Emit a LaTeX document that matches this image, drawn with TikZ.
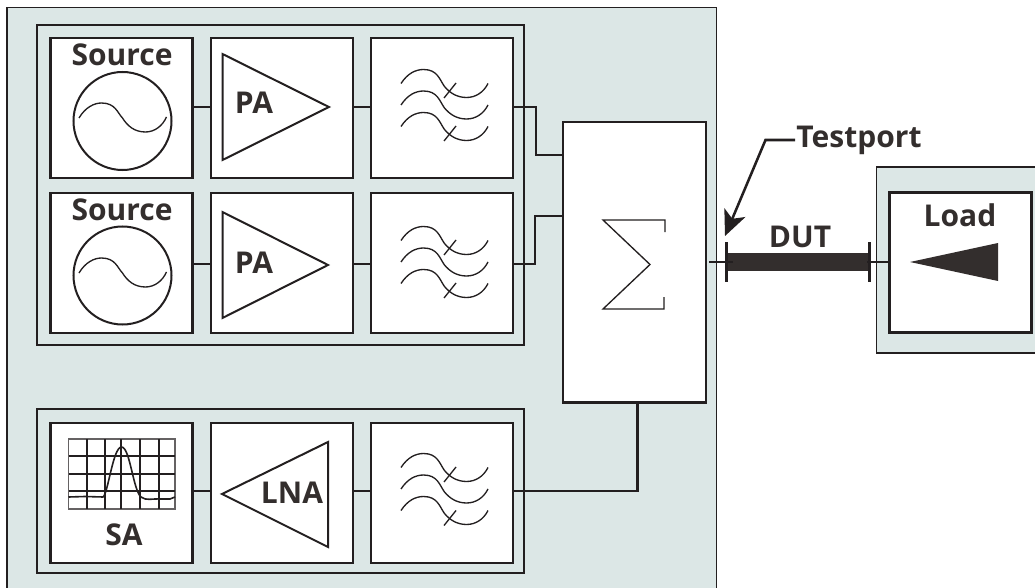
\documentclass[tikz,border=0pt]{standalone}
\usepackage{fontspec}
\setmainfont{Open Sans}
\usetikzlibrary{arrows.meta}
\definecolor{panel}{HTML}{DCE7E6}
\definecolor{ink}{HTML}{231F20}
\definecolor{txt}{HTML}{332E2D}
\tikzset{
  x=0.75pt,y=-0.75pt,
  panelline/.style={draw=ink,line width=1.3pt},
  groupbox/.style={draw=ink,line width=1.8pt,fill=panel},
  block/.style={draw=ink,line width=2.1pt,fill=white,rectangle,inner sep=0pt,outer sep=0pt,minimum width=106.5pt,minimum height=105pt},
  wire/.style={draw=ink,line width=1.9pt},
  thinpart/.style={draw=ink,line width=1pt},
  amp/.style={draw=ink,line width=1.5pt,line join=miter},
  lab/.style={text=txt,font=\fontsize{22.5}{24}\bfseries\selectfont,inner sep=0pt},
  sinewave/.pic={\draw[thinpart] (-43.5,-3) .. controls (-37,-14) and (-28,-18) .. (-21,-18) .. controls (-7,-18) and (-5,-8) .. (0,-3) .. controls (5,5) and (12,11) .. (23,11) .. controls (32,11) and (40,5) .. (44,-4);},
  filterwave/.pic={\foreach \dy in {0,21.5,43}{\draw[thinpart] (-43.5,\dy) .. controls (-37,\dy-10) and (-29,\dy-14) .. (-21,\dy-14) .. controls (-7,\dy-14) and (-5,\dy-4) .. (0,\dy+3) .. controls (5,\dy+9) and (12,\dy+14) .. (22,\dy+14) .. controls (31,\dy+14) and (39,\dy+9) .. (43.5,\dy);}},
  ticktop/.pic={\draw[thinpart] (-13,7.5) -- (-1,-7.5);},
}
\begin{document}
\begin{tikzpicture}
\useasboundingbox (0,0) rectangle (1035,588);
% panels
\fill[panel] (7,7.5) rectangle (716.5,588);
\draw[panelline] (7,588) -- (7,7.5) -- (716.5,7.5) -- (716.5,588);
\fill[panel] (876.5,167) rectangle (1035,353);
\draw[panelline] (1035,167) -- (876.5,167) -- (876.5,353) -- (1035,353);
\node[groupbox,rectangle,inner sep=0pt,outer sep=0pt,minimum width=365.25pt,minimum height=240pt] (g1) at (280.5,185) {};
\node[groupbox,rectangle,inner sep=0pt,outer sep=0pt,minimum width=365.25pt,minimum height=123pt] (g2) at (280.5,491) {};
% blocks
\node[block] (src1) at (121.5,108) {};
\node[block] (pa1) at (282,108) {};
\node[block] (flt1) at (442,108) {};
\node[block] (src2) at (121.5,263) {};
\node[block] (pa2) at (282,263) {};
\node[block] (flt2) at (442,263) {};
\node[block] (sa) at (121.5,493) {};
\node[block] (lna) at (282,493) {};
\node[block] (flt3) at (442,493) {};
\node[block,minimum width=107.25pt,minimum height=210.5pt] (sum) at (634.5,262.3) {};
\node[block] (load) at (960.5,262.5) {};
% named junctions
\coordinate (sumA) at (563,155);
\coordinate (sumB) at (563,216);
\coordinate (kneeC) at (637.5,491);
\coordinate (stubL) at (709,262);
\coordinate (stubR) at (733,262);
\coordinate (stubS) at (867,262);
\coordinate (loadIn) at (889,262);
\coordinate (duta) at (727,253);
\coordinate (dutb) at (868,271);
\coordinate (tA) at (726.5,242);
\coordinate (tB) at (726.5,282);
\coordinate (tC) at (869.5,242);
\coordinate (tD) at (869.5,282);
\coordinate (callTip) at (725,236);
\coordinate (callKnee) at (765.5,140);
\coordinate (callEnd) at (795,140);
% connectors
\draw[wire] (src1.east |- 0,107) -- (pa1.west |- 0,107);
\draw[wire] (pa1.east |- 0,107) -- (flt1.west |- 0,107);
\draw[wire] (src2.east |- 0,264) -- (pa2.west |- 0,264);
\draw[wire] (pa2.east |- 0,264) -- (flt2.west |- 0,264);
\draw[wire] (sa.east |- 0,491) -- (lna.west |- 0,491);
\draw[wire] (lna.east |- 0,491) -- (flt3.west |- 0,491);
\draw[wire,line join=miter] (flt1.east |- 0,107) -- (536,107) -- (536,155) -- (sumA);
\draw[wire,line join=miter] (flt2.east |- 0,264) -- (535,264) -- (535,216) -- (sumB);
\draw[wire,line join=miter] (flt3.east |- kneeC) -- (kneeC) -- (kneeC |- sum.south);
% source symbols
\draw[amp] (122.5,121) circle[radius=49];
\path (122.5,121) pic {sinewave};
\draw[amp] (122.5,275.5) circle[radius=49];
\path (122.5,276) pic {sinewave};
% amplifiers
\draw[amp] (222.5,54) -- (222.5,160) -- (329,107) -- cycle;
\draw[amp] (222.5,212) -- (222.5,318) -- (328,265) -- cycle;
\draw[amp] (328,442) -- (328,547) -- (222,494) -- cycle;
% filters
\path (444.5,83.5) pic {filterwave};
\path (457,90.5) pic {ticktop};
\path (457,133.5) pic {ticktop};
\path (444.5,240.5) pic {filterwave};
\path (457,247.5) pic {ticktop};
\path (457,290.5) pic {ticktop};
\path (444.5,467.5) pic {filterwave};
\path (457,474.5) pic {ticktop};
\path (457,518) pic {ticktop};
% spectrum analyser
\draw[ink!70,line width=1.3pt] (68.5,439) rectangle (175,509);
\foreach \gx in {87,105,121,140,159}{\draw[ink,line width=1.4pt] (\gx,439) -- (\gx,509);}
\foreach \gy in {456,474,491}{\draw[ink,line width=1.4pt] (68.5,\gy) -- (175,\gy);}
\draw[thinpart,line width=1.2pt,line join=round] (68.5,497) -- (85,496.5) -- (103,497) .. controls (108,494) and (113,447) .. (121.5,447) .. controls (130,447) and (133,490) .. (141,497) .. controls (146,501) and (152,498.5) .. (160,499) -- (170,499) -- (175,497);
% sum symbol
\draw[thinpart,line join=miter] (665,232) -- (665,220) -- (603,220) -- (650,264.5) -- (603,309) -- (664,309) -- (664,297);
% DUT
\fill[txt] (duta) rectangle (dutb);
\draw[wire] (stubL) -- (stubR);
\draw[wire] (stubS) -- (loadIn);
\draw[wire] (tA) -- (tB);
\draw[wire] (tC) -- (tD);
\fill[txt] (910,262) -- (998,243) -- (998,281) -- cycle;
% callout
\draw[wire,line join=miter,-{Stealth[length=19pt,width=17pt,inset=5pt]}] (callEnd) -- (callKnee) -- (callTip);
% labels
\node[lab] (lsrc1) at (122,55) {Source};
\node[lab] (lsrc2) at (122,210) {Source};
\node[lab] (lpa1) at (254,103) {PA};
\node[lab] (lpa2) at (254,263) {PA};
\node[lab] (lsa) at (124,535) {SA};
\node[lab] (llna) at (292,493) {LNA};
\node[lab] (ltest) at (859,140) {Testport};
\node[lab] (ldut) at (800,237) {DUT};
\node[lab] (lload) at (960,215) {Load};
\end{tikzpicture}
\end{document}
